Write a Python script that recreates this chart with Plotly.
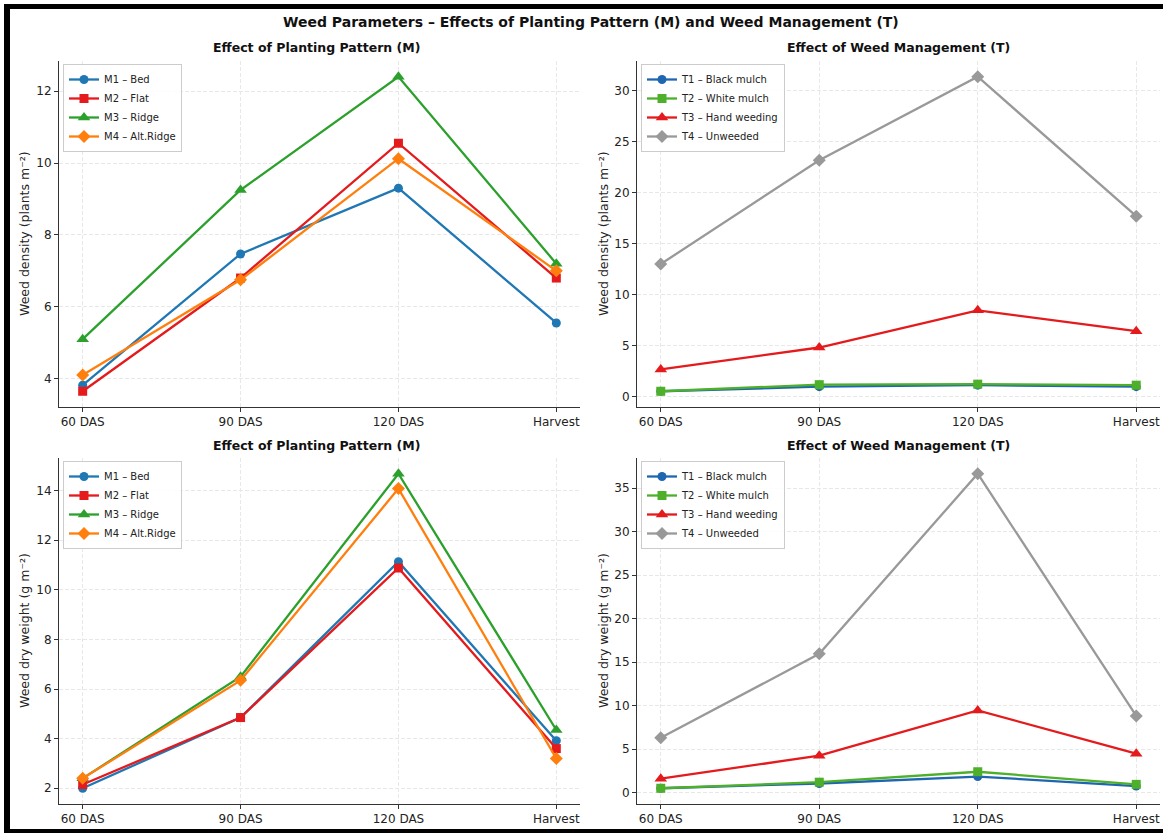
import plotly.graph_objects as go

W, H = 1163, 833

stages = ["60 DAS", "90 DAS", "120 DAS", "Harvest"]

# Weed density by planting pattern (plants m-2)
m_names = ["M1 – Bed", "M2 – Flat", "M3 – Ridge", "M4 – Alt.Ridge"]
dens_m1 = [3.82, 7.47, 9.30, 5.55]
dens_m2 = [3.65, 6.80, 10.55, 6.80]
dens_m3 = [5.10, 9.25, 12.40, 7.20]
dens_m4 = [4.10, 6.75, 10.12, 7.00]

# Weed density by weed management (plants m-2)
t_names = ["T1 – Black mulch", "T2 – White mulch", "T3 – Hand weeding", "T4 – Unweeded"]
dens_t1 = [0.50, 0.95, 1.10, 0.95]
dens_t2 = [0.50, 1.15, 1.20, 1.10]
dens_t3 = [2.65, 4.80, 8.45, 6.40]
dens_t4 = [13.0, 23.2, 31.4, 17.7]

# Weed dry weight by planting pattern (g m-2)
dw_m1 = [2.00, 4.85, 11.13, 3.92]
dw_m2 = [2.15, 4.85, 10.88, 3.60]
dw_m3 = [2.40, 6.50, 14.68, 4.35]
dw_m4 = [2.40, 6.35, 14.08, 3.20]

# Weed dry weight by weed management (g m-2)
dw_t1 = [0.50, 1.05, 1.85, 0.75]
dw_t2 = [0.50, 1.20, 2.40, 0.95]
dw_t3 = [1.60, 4.25, 9.45, 4.48]
dw_t4 = [6.30, 15.95, 36.65, 8.82]

m_colors = ["#1f77b4", "#e41a1c", "#2ca02c", "#ff7f0e"]
t_colors = ["#1f66b0", "#4daf2a", "#e41a1c", "#999999"]
symbols = ["circle", "square", "triangle-up", "diamond"]
sizes = [9, 9, 11, 10]

FONT = "DejaVu Sans"

fig = go.Figure()

def px_x(p):
    return p / W

def px_y(p):
    return 1 - p / H

panels = [
    ("x", "y", (59, 580), (61, 407), [dens_m1, dens_m2, dens_m3, dens_m4], m_names, m_colors, "legend", 2),
    ("x2", "y2", (637, 1160), (61, 407), [dens_t1, dens_t2, dens_t3, dens_t4], t_names, t_colors, "legend2", 5),
    ("x3", "y3", (59, 580), (458, 804), [dw_m1, dw_m2, dw_m3, dw_m4], m_names, m_colors, "legend3", 2),
    ("x4", "y4", (637, 1160), (458, 804), [dw_t1, dw_t2, dw_t3, dw_t4], t_names, t_colors, "legend4", 5),
]

layout_axes = {}
legends = {}
for xa, ya, (x0, x1), (y0, y1), series, names, colors, leg, dt in panels:
    allv = [v for s in series for v in s]
    lo, hi = min(allv), max(allv)
    pad = (hi - lo) * 0.05
    for s, n, c, sym, sz in zip(series, names, colors, symbols, sizes):
        fig.add_trace(go.Scatter(
            x=stages, y=s, name=n, mode="lines+markers",
            xaxis=xa, yaxis=ya, legend=leg,
            line=dict(color=c, width=2.3),
            marker=dict(symbol=sym, size=sz, color=c),
        ))
    xkey = "xaxis" + xa[1:]
    ykey = "yaxis" + ya[1:]
    common = dict(
        showline=True, linecolor="#333333", linewidth=1, mirror=False,
        ticks="outside", ticklen=4, tickcolor="#333333", tickwidth=1,
        showgrid=True, gridcolor="#e8e8e8", griddash="4px,2px", gridwidth=1,
        zeroline=False, automargin=False,
        tickfont=dict(family=FONT, size=12, color="#222222"),
    )
    layout_axes[xkey] = dict(common, domain=[px_x(x0), px_x(x1)], anchor=ya,
                             type="category", range=[-0.15, 3.15])
    layout_axes[ykey] = dict(common, domain=[px_y(y1), px_y(y0)], anchor=xa,
                             range=[lo - pad, hi + pad], dtick=dt, tick0=0)
    legends[leg] = dict(
        x=px_x(x0 + 4), y=px_y(y0 + 3), xanchor="left", yanchor="top",
        bgcolor="rgba(255,255,255,0.85)", bordercolor="#cccccc", borderwidth=1,
        font=dict(family=FONT, size=10, color="#222222"),
        tracegroupgap=0, itemwidth=30,
    )

def ann(text, x, y, size, angle=0, color="#111111"):
    return dict(text=text, x=px_x(x), y=px_y(y), xref="paper", yref="paper",
                xanchor="center", yanchor="middle", showarrow=False, textangle=angle,
                font=dict(family=FONT, size=size, color=color))

annotations = [
    ann("<b>Weed Parameters – Effects of Planting Pattern (M) and Weed Management (T)</b>", 591, 22, 14),
    ann("<b>Effect of Planting Pattern (M)</b>", 316, 48, 12.5),
    ann("<b>Effect of Weed Management (T)</b>", 898, 48, 12.5),
    ann("<b>Effect of Planting Pattern (M)</b>", 316, 445, 12.5),
    ann("<b>Effect of Weed Management (T)</b>", 898, 445, 12.5),
    ann("Weed density (plants m⁻²)", 24, 234, 12.5, -90, "#222222"),
    ann("Weed density (plants m⁻²)", 603, 234, 12.5, -90, "#222222"),
    ann("Weed dry weight (g m⁻²)", 24, 631, 12.5, -90, "#222222"),
    ann("Weed dry weight (g m⁻²)", 603, 631, 12.5, -90, "#222222"),
]

def rect(x0, y0, x1, y1):
    return dict(type="rect", xref="paper", yref="paper",
                x0=px_x(x0), x1=px_x(x1), y0=px_y(y1), y1=px_y(y0),
                fillcolor="black", line=dict(width=0), layer="above")

shapes = [
    rect(4, 4, 10, 833),
    rect(4, 4, 1163, 9),
    rect(4, 829, 1163, 833),
]

fig.update_layout(
    width=W, height=H,
    margin=dict(l=0, r=0, t=0, b=0),
    paper_bgcolor="white", plot_bgcolor="white",
    template="none",
    font=dict(family=FONT, size=11, color="#222222"),
    annotations=annotations,
    shapes=shapes,
    showlegend=True,
    **layout_axes,
    **legends,
)

fig.write_html("out.html")
